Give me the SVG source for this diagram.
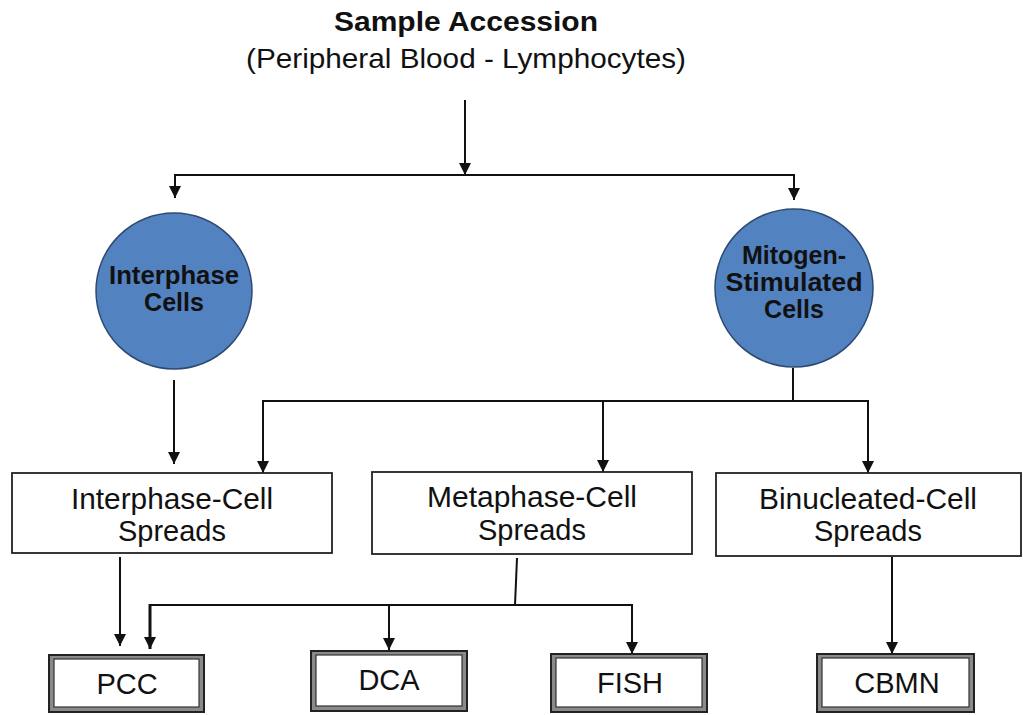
<svg xmlns="http://www.w3.org/2000/svg" width="1023" height="715" viewBox="0 0 1023 715">
<defs>
<marker id="ah" viewBox="0 0 10 10" refX="10" refY="5" markerWidth="12" markerHeight="12" markerUnits="userSpaceOnUse" orient="auto">
<path d="M0,0 L10,5 L0,10 Z" fill="#111"/>
</marker>
</defs>
<style>
text{font-family:"Liberation Sans",Arial,sans-serif;fill:#111;text-anchor:middle}
.t{font-size:29px}
.b{font-weight:bold}
.c{font-size:25px;font-weight:bold}
.circ{fill:#5382c0;stroke:#2d4a72;stroke-width:1.5}
.box{fill:#fff;stroke:#222;stroke-width:1.8}
.outer{fill:#8a8a8a;stroke:#222;stroke-width:2}
.inner{fill:#fff;stroke:#333;stroke-width:1.2}
.ln{fill:none;stroke:#111;stroke-width:2}
.ar{fill:none;stroke:#111;stroke-width:2;marker-end:url(#ah)}
</style>
<rect width="1023" height="715" fill="#fff"/>
<g id="title">
<text class="b" x="466" y="31" style="font-size:27px" textLength="264" lengthAdjust="spacingAndGlyphs">Sample Accession</text>
<text x="466" y="68" style="font-size:28px" textLength="440" lengthAdjust="spacingAndGlyphs">(Peripheral Blood - Lymphocytes)</text>
</g>
<g id="connectors">
<line class="ar" x1="465" y1="100" x2="465" y2="175"/>
<line class="ln" x1="175" y1="175" x2="794" y2="175"/>
<line class="ar" x1="175" y1="174" x2="175" y2="198"/>
<line class="ar" x1="794" y1="174" x2="794" y2="200"/>
<line class="ar" x1="174" y1="380" x2="174" y2="464"/>
<line class="ln" x1="793" y1="368" x2="793" y2="401"/>
<line class="ln" x1="263" y1="401" x2="868" y2="401"/>
<line class="ar" x1="263" y1="400" x2="263" y2="473"/>
<line class="ar" x1="603" y1="400" x2="603" y2="472"/>
<line class="ar" x1="868" y1="400" x2="868" y2="473"/>
<line class="ar" x1="120" y1="557" x2="120" y2="646"/>
<line class="ln" x1="517" y1="558" x2="515" y2="605"/>
<line class="ln" x1="150" y1="605" x2="632" y2="605"/>
<line class="ar" x1="150" y1="604" x2="150" y2="649" style="stroke-width:3"/>
<line class="ar" x1="389" y1="604" x2="389" y2="650"/>
<line class="ar" x1="632" y1="604" x2="632" y2="654"/>
<line class="ar" x1="892" y1="557" x2="892" y2="654"/>
</g>
<g id="interphase-cells">
<circle class="circ" cx="174" cy="291" r="78"/>
<text class="c" x="174" y="284" textLength="130" lengthAdjust="spacingAndGlyphs">Interphase</text>
<text class="c" x="174" y="311">Cells</text>
</g>
<g id="mitogen-cells">
<circle class="circ" cx="794" cy="288" r="79"/>
<text class="c" x="794" y="264">Mitogen-</text>
<text class="c" x="794" y="291" textLength="137" lengthAdjust="spacingAndGlyphs">Stimulated</text>
<text class="c" x="794" y="318">Cells</text>
</g>
<g id="interphase-spreads">
<rect class="box" x="12" y="473" width="320" height="80"/>
<text class="t" x="172" y="509" textLength="202" lengthAdjust="spacingAndGlyphs">Interphase-Cell</text>
<text class="t" x="172" y="541">Spreads</text>
</g>
<g id="metaphase-spreads">
<rect class="box" x="372" y="472" width="320" height="82"/>
<text class="t" x="532" y="507" textLength="210" lengthAdjust="spacingAndGlyphs">Metaphase-Cell</text>
<text class="t" x="532" y="540">Spreads</text>
</g>
<g id="binucleated-spreads">
<rect class="box" x="716" y="473" width="305" height="83"/>
<text class="t" x="868" y="509" textLength="218" lengthAdjust="spacingAndGlyphs">Binucleated-Cell</text>
<text class="t" x="868" y="541">Spreads</text>
</g>
<g id="pcc">
<rect class="outer" x="49" y="655" width="155" height="57"/>
<rect class="inner" x="54" y="659" width="145" height="48"/>
<text class="t" x="127" y="694">PCC</text>
</g>
<g id="dca">
<rect class="outer" x="311" y="651" width="156" height="60"/>
<rect class="inner" x="316" y="655" width="146" height="51"/>
<text class="t" x="389" y="690">DCA</text>
</g>
<g id="fish">
<rect class="outer" x="551" y="654" width="156" height="58"/>
<rect class="inner" x="556" y="658" width="146" height="49"/>
<text class="t" x="630" y="693">FISH</text>
</g>
<g id="cbmn">
<rect class="outer" x="817" y="654" width="157" height="58"/>
<rect class="inner" x="822" y="658" width="147" height="49"/>
<text class="t" x="897" y="693">CBMN</text>
</g>
</svg>
